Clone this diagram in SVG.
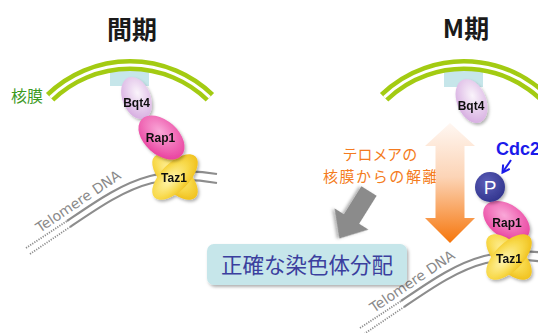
<svg xmlns="http://www.w3.org/2000/svg" width="538" height="333" viewBox="0 0 538 333">
  <defs>
    <style>
      .title { font-family: "Noto Sans CJK JP", "Noto Sans", sans-serif; font-size: 25px; font-weight: 700; fill: #1a1a1a; text-anchor: middle; }
      .membrane { fill: none; stroke: #a3cb12; stroke-width: 12; }
      .membrane-gap { fill: none; stroke: #ffffff; stroke-width: 3; }
      .pore { fill: #c6e6ea; }
      .protein-label { font-family: "Liberation Sans", Arial, sans-serif; font-size: 12px; font-weight: 700; fill: #111; text-anchor: middle; }
      .strand { fill: none; stroke: #8d8d8d; stroke-width: 2.2; }
      .strand-dot { stroke-dasharray: 1.2 1.3; stroke-width: 1.8; }
      .dna-label { font-family: "DejaVu Sans", "Liberation Sans", sans-serif; font-size: 14px; fill: #8a8a8a; }
      .jp { font-family: "Noto Sans CJK JP", "Noto Sans", sans-serif; }
      .note { font-size: 15px; fill: #f47b20; text-anchor: middle; }
    </style>
    <filter id="shadow" x="-30%" y="-30%" width="160%" height="160%">
      <feDropShadow dx="1.5" dy="2" stdDeviation="1.5" flood-color="#000" flood-opacity="0.3"/>
    </filter>
    <radialGradient id="g-bqt4" cx="0.4" cy="0.4" r="0.7">
      <stop offset="0" stop-color="#faf4fb"/>
      <stop offset="1" stop-color="#d4a8df"/>
    </radialGradient>
    <radialGradient id="g-rap1" cx="0.4" cy="0.4" r="0.7">
      <stop offset="0" stop-color="#f9a8d8"/>
      <stop offset="1" stop-color="#e8389a"/>
    </radialGradient>
    <radialGradient id="g-taz1" cx="0.4" cy="0.45" r="0.65">
      <stop offset="0" stop-color="#fff6b0"/>
      <stop offset="0.6" stop-color="#f8d94a"/>
      <stop offset="1" stop-color="#efbd16"/>
    </radialGradient>
    <radialGradient id="g-p" cx="0.4" cy="0.35" r="0.7">
      <stop offset="0" stop-color="#5c5fb8"/>
      <stop offset="1" stop-color="#30338c"/>
    </radialGradient>
    <linearGradient id="g-move" x1="0" y1="0" x2="0" y2="1">
      <stop offset="0" stop-color="#fff7f2"/>
      <stop offset="0.45" stop-color="#fcd4b6"/>
      <stop offset="1" stop-color="#f6760c"/>
    </linearGradient>
    <marker id="open-head" viewBox="0 0 10 10" refX="8" refY="5" markerWidth="5" markerHeight="5" orient="auto">
      <path d="M1,1 L8,5 L1,9" fill="none" stroke="#1b1bea" stroke-width="2"/>
    </marker>
  </defs>

  <!-- ===== Interphase (left) ===== -->
  <g id="title-interphase">
    <text class="title" x="132" y="39">間期</text>
  </g>

  <g id="label-nuclear-envelope">
    <text class="jp" x="27" y="102" font-size="16" fill="#3d9a1f" text-anchor="middle">核膜</text>
  </g>

  <g id="pore-left">
    <rect class="pore" x="110" y="68" width="39" height="18"/>
  </g>

  <g id="membrane-left">
    <path class="membrane" d="M 50.1 97.3 A 115 115 0 0 1 209.9 97.3"/>
    <path class="membrane-gap" d="M 50.1 97.3 A 115 115 0 0 1 209.9 97.3"/>
  </g>

  <g id="dna-left">
    <path class="strand strand-dot" d="M 26 248 L 67 221"/>
    <path class="strand strand-dot" d="M 30 254 L 70 227"/>
    <path class="strand" d="M 67 221 C 95 202, 120 184, 150 176 C 175 170, 200 171, 217 174"/>
    <path class="strand" d="M 70 227 C 98 208, 124 190, 152 183 C 177 178, 200 180, 217 183"/>
    <text class="dna-label" transform="translate(40 233) rotate(-34)">Telomere DNA</text>
  </g>

  <g id="bqt4-left" filter="url(#shadow)">
    <ellipse cx="136.5" cy="98" rx="22" ry="14" fill="url(#g-bqt4)" transform="rotate(68 136.5 98)"/>
    <text class="protein-label" x="136.5" y="107">Bqt4</text>
  </g>

  <g id="taz1-left" filter="url(#shadow)">
    <ellipse cx="175" cy="177" rx="29" ry="14" fill="url(#g-taz1)" transform="rotate(45 175 177)"/>
    <ellipse cx="175" cy="177" rx="29" ry="14" fill="url(#g-taz1)" transform="rotate(-45 175 177)"/>
    <text class="protein-label" x="174" y="182">Taz1</text>
  </g>

  <g id="rap1-left" filter="url(#shadow)">
    <ellipse cx="161.5" cy="137.5" rx="27" ry="17" fill="url(#g-rap1)" transform="rotate(42 161.5 137.5)"/>
    <text class="protein-label" x="160.5" y="142">Rap1</text>
  </g>

  <!-- ===== M phase (right) ===== -->
  <g id="title-mitosis">
    <text class="title" x="466" y="38">M期</text>
  </g>

  <g id="pore-right">
    <rect class="pore" x="444" y="68" width="39" height="19"/>
  </g>

  <g id="membrane-right">
    <path class="membrane" d="M 384.1 97.3 A 115 115 0 0 1 563.6 122.5"/>
    <path class="membrane-gap" d="M 384.1 97.3 A 115 115 0 0 1 563.6 122.5"/>
  </g>

  <g id="bqt4-right" filter="url(#shadow)">
    <ellipse cx="471.5" cy="101" rx="23" ry="14.5" fill="url(#g-bqt4)" transform="rotate(68 471.5 101)"/>
    <text class="protein-label" x="471" y="109.5">Bqt4</text>
  </g>

  <g id="dna-right">
    <g transform="translate(334 80)">
      <path class="strand strand-dot" d="M 26 248 L 67 221"/>
      <path class="strand strand-dot" d="M 30 254 L 70 227"/>
      <path class="strand" d="M 67 221 C 95 202, 120 184, 150 176 C 175 170, 200 171, 217 174"/>
      <path class="strand" d="M 70 227 C 98 208, 124 190, 152 183 C 177 178, 200 180, 217 183"/>
      <text class="dna-label" transform="translate(40 233) rotate(-34)">Telomere DNA</text>
    </g>
  </g>

  <g id="rap1-right" filter="url(#shadow)">
    <ellipse cx="506.5" cy="221" rx="26" ry="16.5" fill="url(#g-rap1)" transform="rotate(35 506.5 221)"/>
    <text class="protein-label" x="507" y="226.5">Rap1</text>
  </g>

  <g id="taz1-right" filter="url(#shadow)">
    <ellipse cx="509" cy="257" rx="29" ry="14" fill="url(#g-taz1)" transform="rotate(45 509 257)"/>
    <ellipse cx="509" cy="257" rx="29" ry="14" fill="url(#g-taz1)" transform="rotate(-45 509 257)"/>
    <text class="protein-label" x="509" y="263">Taz1</text>
  </g>

  <g id="phospho">
    <circle cx="490" cy="187" r="15" fill="url(#g-p)" filter="url(#shadow)"/>
    <text x="490" y="194" font-family="Liberation Sans, Arial, sans-serif" font-size="19" fill="#ffffff" text-anchor="middle">P</text>
  </g>

  <g id="kinase-cdc2">
    <text x="496" y="155" font-family="Liberation Sans, Arial, sans-serif" font-size="18" font-weight="700" fill="#1b1bea">Cdc2</text>
  </g>

  <g id="dissociation-label">
    <text class="jp note" x="380.5" y="159.5" letter-spacing="1" style="font-feature-settings: 'palt'">テロメアの</text>
    <text class="jp note" x="381" y="182" letter-spacing="1.6">核膜からの解離</text>
  </g>

  <g id="result-box">
    <rect x="207" y="244" width="200" height="41" rx="7" fill="#c6e6ea" filter="url(#shadow)"/>
    <text class="jp" x="307" y="273" font-size="21.5" fill="#3b3f9e" text-anchor="middle">正確な染色体分配</text>
  </g>

  <!-- ===== Connectors ===== -->
  <g id="connectors">
    <polygon points="450,123 475,146 464.5,146 464.5,218 475,218 450,243 425,218 435.5,218 435.5,146 425,146" fill="url(#g-move)"/>
    <polygon points="0,-9 33,-9 33,-20 56,0 33,20 33,9 0,9" fill="#8b8b8b" filter="url(#shadow)" transform="translate(369 191) rotate(122)"/>
    <path d="M 511 160 L 502.5 172.5" fill="none" stroke="#1b1bea" stroke-width="2" marker-end="url(#open-head)"/>
  </g>
</svg>
